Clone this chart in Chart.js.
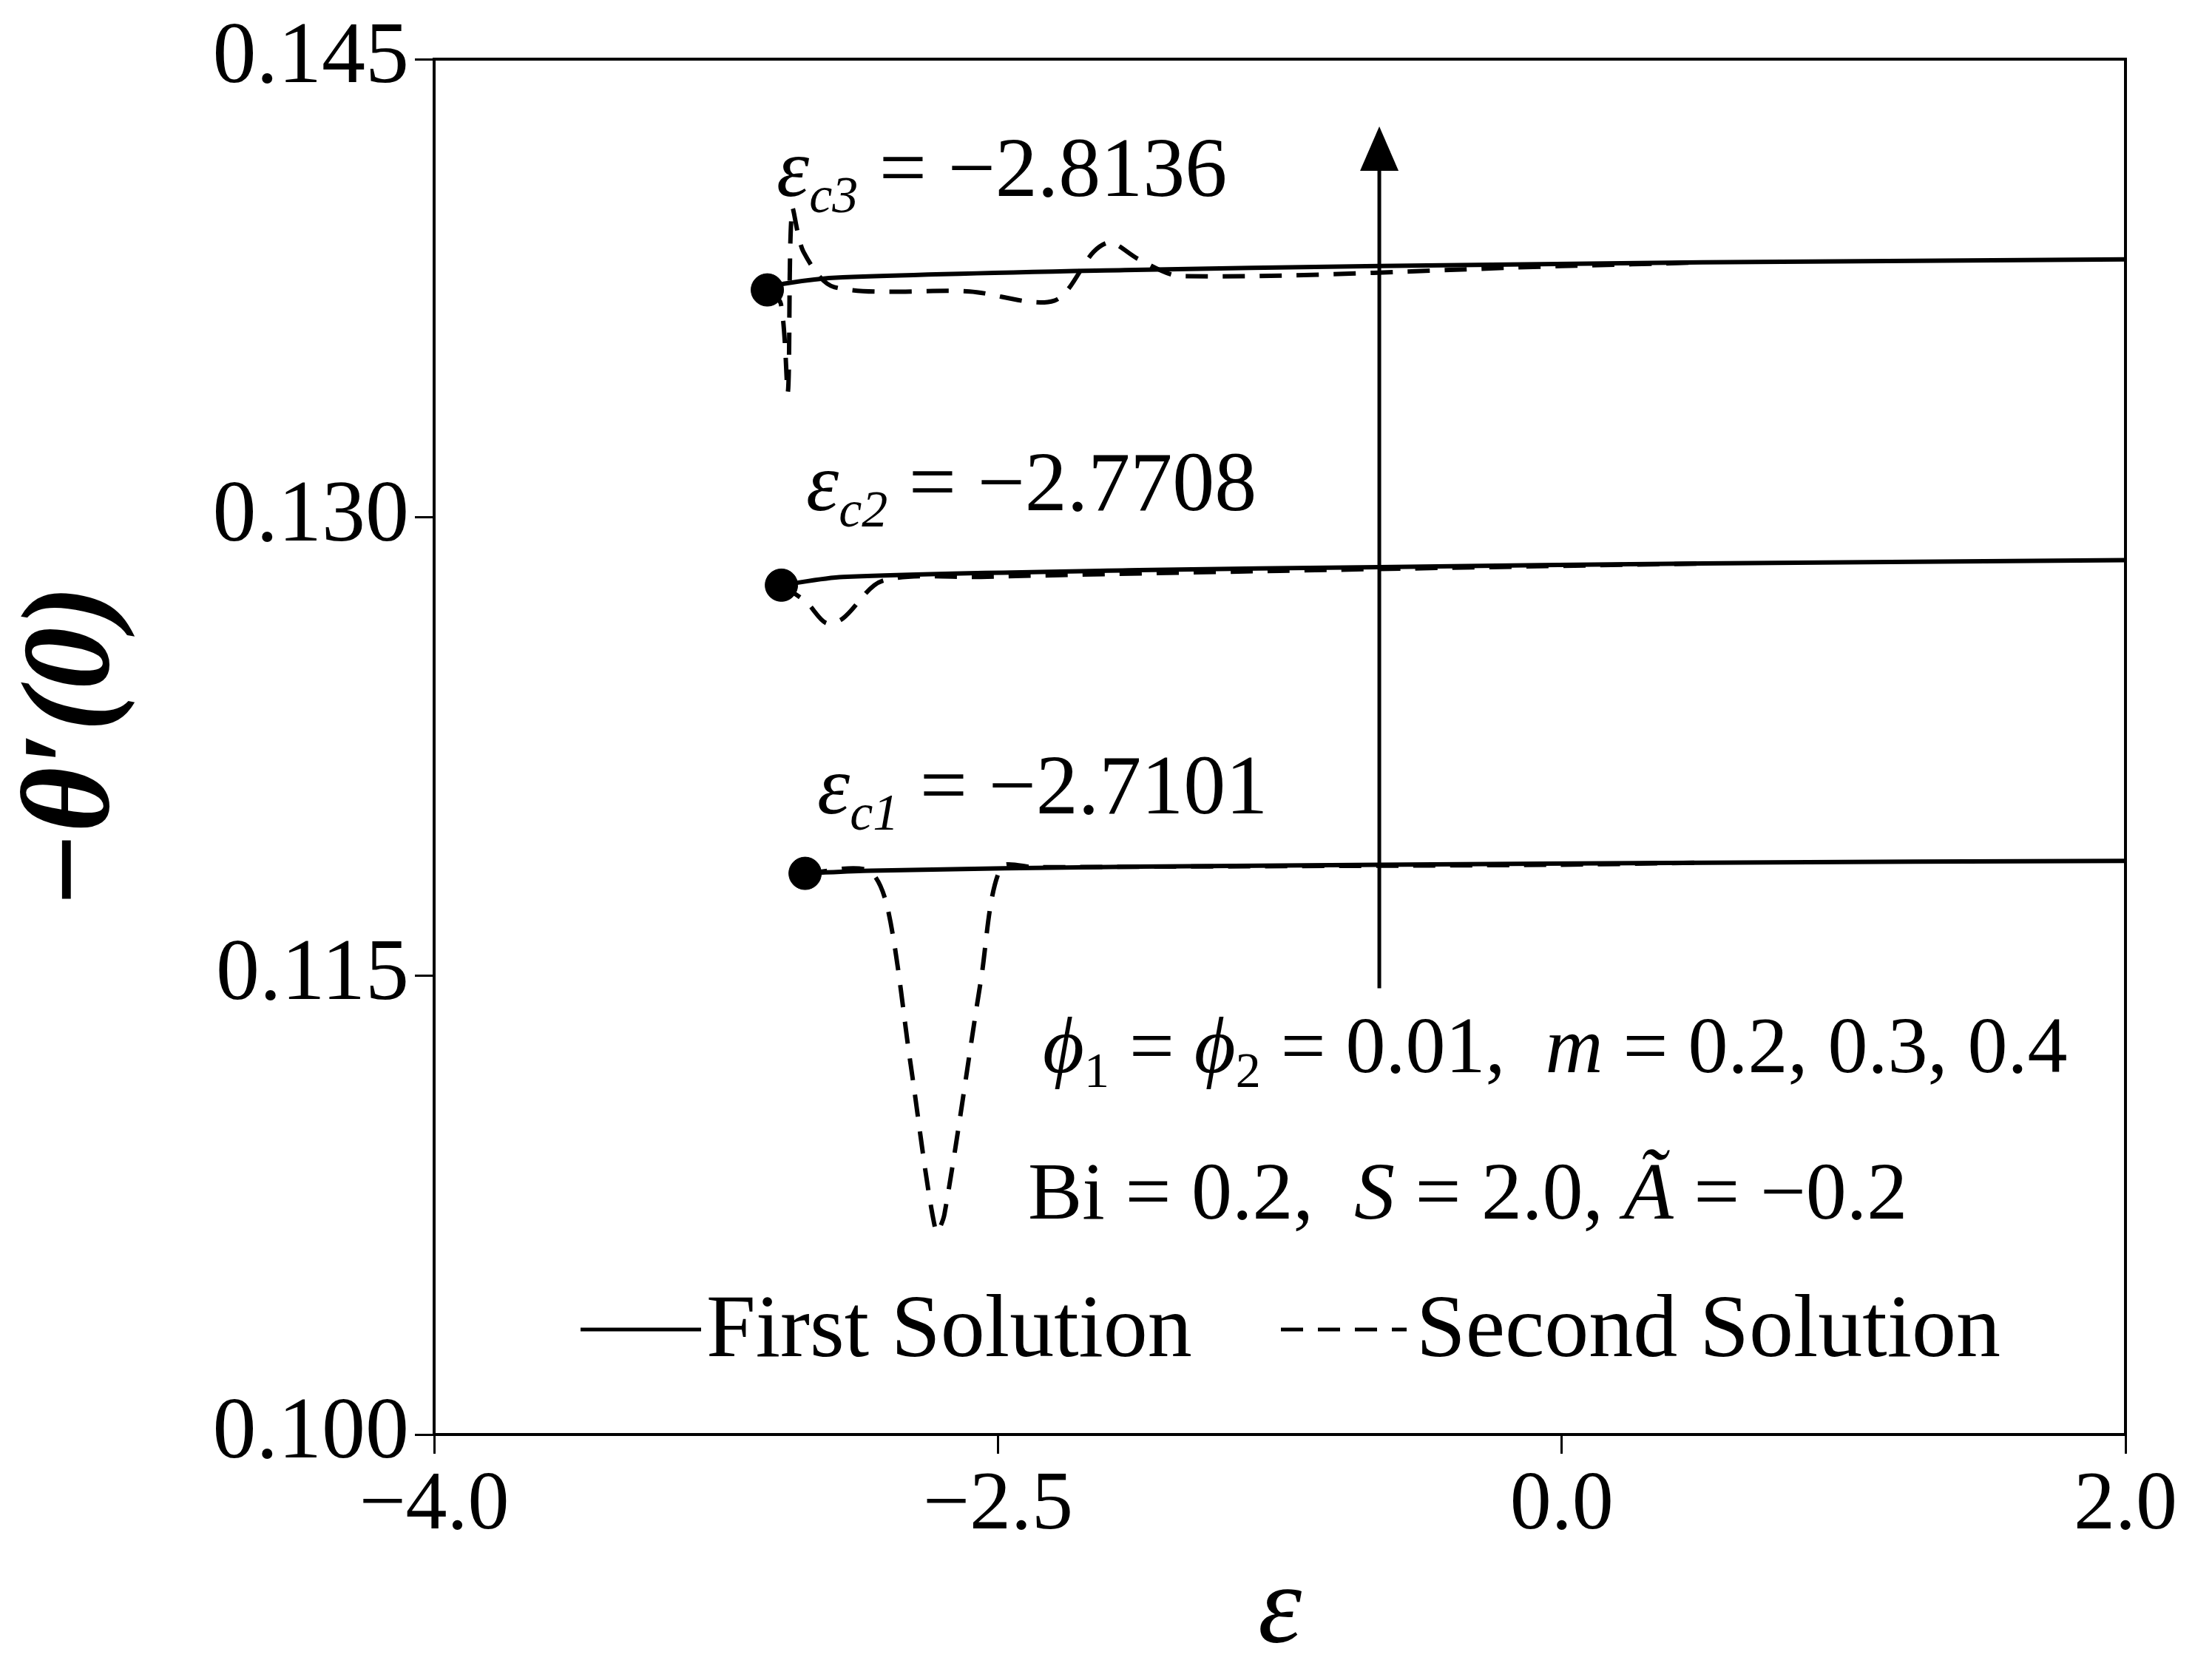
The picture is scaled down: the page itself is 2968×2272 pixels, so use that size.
<!DOCTYPE html>
<html><head><meta charset="utf-8">
<script src="https://cdn.jsdelivr.net/npm/chart.js@4.4.1/dist/chart.umd.min.js"></script>
<style>html,body{margin:0;padding:0;background:#fff}canvas{display:block}</style>
</head><body><canvas id="c" width="2968" height="2272"></canvas>
<script>
const xTickLabels = ["\u22124.0", "\u22122.5", "0.0", "2.0"];
const yTickLabels = ["0.100", "0.115", "0.130", "0.145"];
const first1 = [[-2.684,0.11836],[-2.45,0.11845],[-1.5,0.11858],[-0.65,0.11864],[0.5,0.11871],[2.0,0.11877]];
const second1 = [[-2.684,0.11836],[-2.46,0.11845],[-2.39,0.11717],[-2.31,0.11214],[-2.22,0.10664],[-2.19,0.10719],[-2.06,0.11488],[-1.99,0.11854],[-1.87,0.11856],[-0.04,0.11864],[0.5,0.11871]];
const first2 = [[-2.768,0.12779],[-2.55,0.12806],[-1.5,0.12828],[-0.65,0.12838],[0.5,0.12850],[2.0,0.12861]];
const second2 = [[-2.768,0.12779],[-2.68,0.12724],[-2.61,0.12655],[-2.55,0.1267],[-2.41,0.12793],[-2.06,0.12806],[-1.0,0.12826],[0.5,0.12850]];
const first3 = [[-2.818,0.13745],[-2.76,0.13765],[-2.55,0.13786],[-1.55,0.13810],[-0.65,0.13823],[0.5,0.13835],[2.0,0.13845]];
const second3 = [[-2.818,0.13745],[-2.77,0.1370],[-2.745,0.1341],[-2.73,0.1401],[-2.69,0.1387],[-2.58,0.13754],[-2.1,0.1374],[-1.8,0.1371],[-1.66,0.1387],[-1.6,0.1390],[-1.5,0.13845],[-1.35,0.1379],[0.0,0.13823],[0.5,0.13835]];
const critical = [[-2.684,0.11836],[-2.768,0.12779],[-2.818,0.13745]];

const toXY = a => a.map(p => ({x:p[0], y:p[1]}));
const F = "'Liberation Serif', 'Times New Roman', serif";
function segs(ctx, x, y, parts){
  for (const [t, st, size, dy] of parts){
    ctx.font = st + ' ' + size + 'px ' + F;
    ctx.fillText(t, x, y + (dy||0));
    x += ctx.measureText(t).width;
  }
  return x;
}
const deco = {
  id:'deco',
  afterDraw(ch){
    const ctx = ch.ctx, a = ch.chartArea, xs = ch.scales.x, ys = ch.scales.y;
    ctx.save();
    ctx.strokeStyle='#000'; ctx.lineWidth=4;
    ctx.strokeRect(a.left, a.top, a.right-a.left, a.bottom-a.top);
    const ax = xs.getPixelForValue(-0.647);
    const y0 = ys.getPixelForValue(0.1146), y1 = ys.getPixelForValue(0.1428);
    ctx.lineWidth=5; ctx.beginPath(); ctx.moveTo(ax,y0); ctx.lineTo(ax,y1+40); ctx.stroke();
    ctx.fillStyle='#000'; ctx.beginPath(); ctx.moveTo(ax,y1); ctx.lineTo(ax-26,y1+60); ctx.lineTo(ax+26,y1+60); ctx.closePath(); ctx.fill();
    ctx.textBaseline='alphabetic'; ctx.textAlign='left';
    const labs = [["3","\u22122.8136",1050,265],["2","\u22122.7708",1090,690],["1","\u22122.7101",1105,1100]];
    for (const [n,v,x,y] of labs){
      segs(ctx, x, y, [["\u03b5","italic",112],["c"+n,"italic",70,22],[" = "+v,"normal",114]]);
    }
    segs(ctx, 1410, 1450, [["\u03d5","italic",108],["1","normal",68,20],[" = ","normal",108],["\u03d5","italic",108],["2","normal",68,20],[" = 0.01,  ","normal",108],["m","italic",108],[" = 0.2, 0.3, 0.4","normal",108]]);
    segs(ctx, 1390, 1648, [["Bi = 0.2,  ","normal",110],["S","italic",110],[" = 2.0, ","normal",110],["\u00c3","italic",110],[" = \u22120.2","normal",110]]);
    const ly = 1798;
    ctx.lineWidth=5; ctx.setLineDash([]);
    ctx.beginPath(); ctx.moveTo(785,ly); ctx.lineTo(948,ly); ctx.stroke();
    segs(ctx, 955, ly+36, [["First Solution","normal",120]]);
    ctx.setLineDash([30,20]);
    ctx.beginPath(); ctx.moveTo(1732,ly); ctx.lineTo(1902,ly); ctx.stroke();
    ctx.setLineDash([]);
    segs(ctx, 1915, ly+36, [["Second Solution","normal",120]]);
    ctx.restore();
  }
};
const lineDs = (d, dash) => ({data:toXY(d), borderColor:'#000', borderWidth:6, borderDash:dash, pointRadius:0, showLine:true, tension:0.3, fill:false});
new Chart(document.getElementById('c'), {
  type:'scatter',
  data:{datasets:[
    lineDs(first1,[]), lineDs(first2,[]), lineDs(first3,[]),
    lineDs(second1,[30,20]), lineDs(second2,[30,20]), lineDs(second3,[30,20]),
    {data:toXY(critical), backgroundColor:'#000', borderColor:'#000', pointRadius:22, showLine:false}
  ]},
  options:{
    responsive:false, animation:false, devicePixelRatio:1,
    layout:{padding:{top:80,right:94,left:0,bottom:0}},
    plugins:{legend:{display:false}, tooltip:{enabled:false}},
    scales:{
      x:{type:'linear', min:-4, max:2,
        afterBuildTicks(s){s.ticks=[-4,-2,0,2].map(v=>({value:v}));},
        afterFit(s){s.height=332;},
        ticks:{callback:(v)=>xTickLabels[[-4,-2,0,2].indexOf(v)], color:'#000', font:{family:F,size:112}, padding:4, maxRotation:0},
        grid:{drawOnChartArea:false, drawTicks:true, tickLength:26, color:'#000', lineWidth:3},
        border:{color:'#000', width:4},
        title:{display:true, text:'\u03b5', color:'#000', font:{family:F,size:150,style:'italic'}, padding:{top:0,bottom:0}}
      },
      y:{min:0.1, max:0.145,
        afterBuildTicks(s){s.ticks=[0.1,0.115,0.13,0.145].map(v=>({value:v}));},
        afterFit(s){s.width=587;},
        ticks:{callback:(v)=>yTickLabels[[0.1,0.115,0.13,0.145].findIndex(t=>Math.abs(t-v)<1e-6)], color:'#000', font:{family:F,size:118}, padding:8},
        grid:{drawOnChartArea:false, drawTicks:true, tickLength:26, color:'#000', lineWidth:3},
        border:{color:'#000', width:4},
        title:{display:true, text:'\u2212\u03b8\u2032(0)', color:'#000', font:{family:F,size:170,style:'italic',weight:'bold'}, padding:{bottom:10,top:0}}
      }
    }
  },
  plugins:[deco]
});
</script></body></html>
